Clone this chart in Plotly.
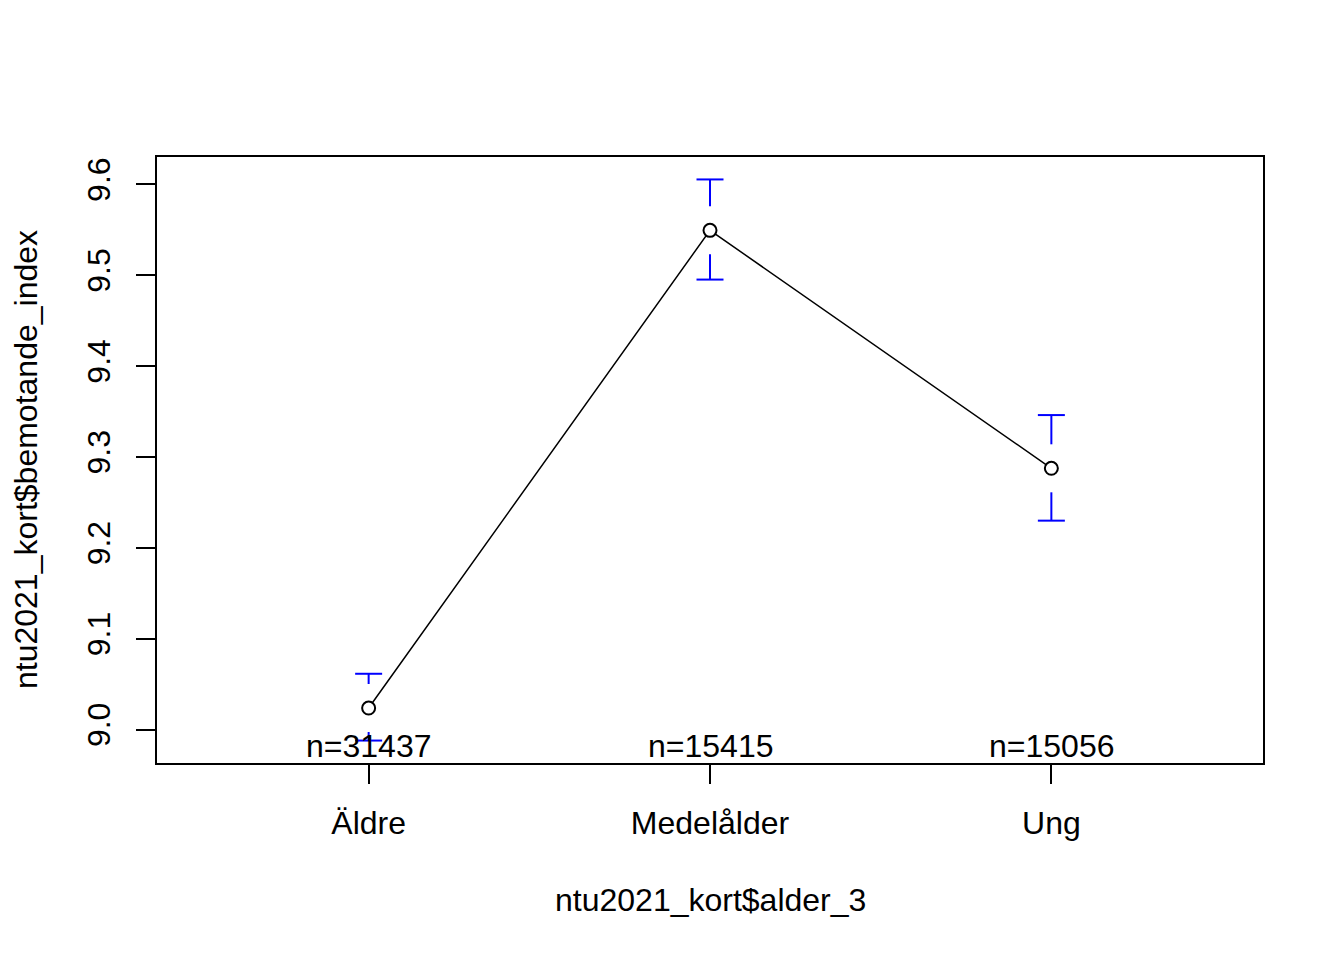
import plotly.graph_objects as go

# ---- data ----
categories = ["Äldre", "Medelålder", "Ung"]
means = [9.0238, 9.5495, 9.2876]
ci_lower = [8.9880, 9.4953, 9.2300]
ci_upper = [9.0615, 9.6055, 9.3462]
n_labels = ["n=31437", "n=15415", "n=15056"]
y_ticks = [9.0, 9.1, 9.2, 9.3, 9.4, 9.5, 9.6]
x_title = "ntu2021_kort$alder_3"
y_title = "ntu2021_kort$bemotande_index"

# ---- style constants ----
FONT = "Liberation Sans, Arial, sans-serif"
FS = 32
W, H = 1344, 960
OFF = 8  # page body margin offset
plot_w, plot_h = 1106, 606
M_L, M_T = 157 - OFF, 157 - OFF
M_R = W - M_L - plot_w
M_B = H - M_T - plot_h

xs = list(range(1, len(categories) + 1))
# R-style ranges (4% extension)
xlo, xhi = 0.5, len(categories) + 0.5
xr = [xlo - 0.04 * (xhi - xlo), xhi + 0.04 * (xhi - xlo)]
ylo, yhi = min(ci_lower), max(ci_upper)
yr = [ylo - 0.04 * (yhi - ylo), yhi + 0.04 * (yhi - ylo)]

gap = 24 * (yr[1] - yr[0]) / plot_h        # pixel gap around points -> data units
cap = 13.5 * (xr[1] - xr[0]) / plot_w      # cap half width -> data units

ex, ey = [], []
for x, m, lo, hi in zip(xs, means, ci_lower, ci_upper):
    if hi > m + gap:
        ex += [x, x, None]
        ey += [hi, m + gap, None]
    ex += [x - cap, x + cap, None]
    ey += [hi, hi, None]
    if lo < m - gap:
        ex += [x, x, None]
        ey += [lo, m - gap, None]
    ex += [x - cap, x + cap, None]
    ey += [lo, lo, None]

fig = go.Figure()
fig.add_trace(go.Scatter(x=ex, y=ey, mode="lines",
                         line=dict(color="#0000FF", width=2),
                         hoverinfo="skip", showlegend=False))
fig.add_trace(go.Scatter(x=xs, y=means, mode="lines+markers",
                         line=dict(color="black", width=1.5),
                         marker=dict(symbol="circle", size=13, color="white",
                                     line=dict(color="black", width=2)),
                         showlegend=False))

for x, t in zip(xs, n_labels):
    fig.add_annotation(x=x, y=yr[0], xref="x", yref="y", text=t,
                       showarrow=False, yanchor="bottom", yshift=-3,
                       font=dict(family=FONT, size=FS, color="black"))

fig.add_annotation(x=0.5, y=-137 / plot_h, xref="paper", yref="paper",
                   text=x_title, showarrow=False, xanchor="center", yanchor="middle",
                   font=dict(family=FONT, size=FS, color="black"))
fig.add_annotation(x=-131 / plot_w, y=0.5, xref="paper", yref="paper",
                   text=y_title, showarrow=False, xanchor="center", yanchor="middle",
                   textangle=-90, borderpad=0,
                   font=dict(family=FONT, size=FS, color="black"))

fig.update_layout(
    width=W, height=H,
    margin=dict(l=M_L, r=M_R, t=M_T, b=M_B, pad=0),
    paper_bgcolor="white", plot_bgcolor="white",
    font=dict(family=FONT, size=FS, color="black"),
    xaxis=dict(range=xr, tickmode="array", tickvals=xs, ticktext=categories,
               showgrid=False, zeroline=False, showline=True, mirror=True,
               linecolor="black", linewidth=2, ticks="outside", ticklen=19,
               tickwidth=2, tickcolor="black", ticklabelstandoff=12),
    yaxis=dict(range=yr, tickmode="array", tickvals=y_ticks,
               ticktext=[f"{v:.1f}" for v in y_ticks], tickangle=-90,
               showgrid=False, zeroline=False, showline=True, mirror=True,
               linecolor="black", linewidth=2, ticks="outside", ticklen=19,
               tickwidth=2, tickcolor="black", ticklabelstandoff=13),
)

fig.write_html("out.html")
